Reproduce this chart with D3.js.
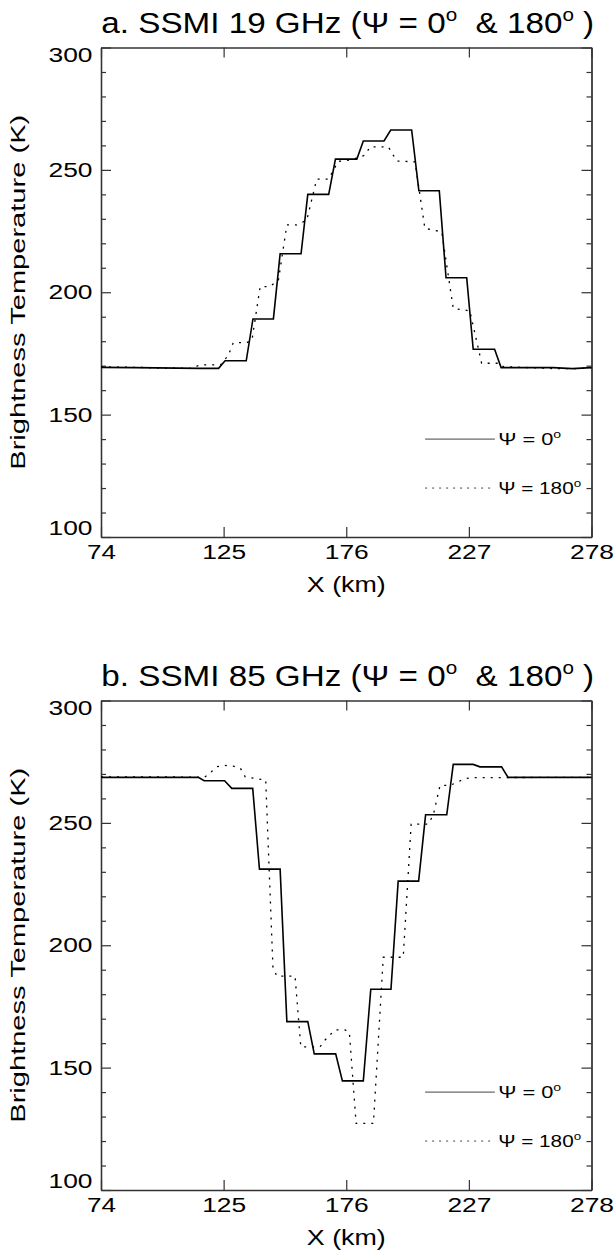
<!DOCTYPE html>
<html><head><meta charset="utf-8">
<script src="https://cdn.jsdelivr.net/npm/d3@7"></script>
<style>
body{margin:0;background:#fff;}
text{font-family:"Liberation Sans",Arial,Helvetica,sans-serif;fill:#000;}
</style></head>
<body>
<svg id="chart" width="614" height="1258"></svg>
<script>
// ---------- data ----------
const xTicks = [74, 125, 176, 227, 278];
const yTicks = [100, 150, 200, 250, 300];
const yMinor = [110,120,130,140,160,170,180,190,210,220,230,240,260,270,280,290];
const panelTitles = ["a. SSMI 19 GHz", "b. SSMI 85 GHz"];
const legendAngles = ["0", "180"];

// panel a, Psi = 0 (solid)
const a0_x = [74,88,115,122.9,125.6,134.4,137.2,145.7,148.5,157.2,160,168.7,171.5,180.4,183.1,191.7,194.5,203.2,206.2,214.7,217.5,226.1,228.8,237.7,240.4,262,270,278];
const a0_y = [169.3,169.2,168.9,168.9,172,172,189.1,189.1,215.7,215.7,240,240,254.4,254.4,261.8,261.8,266.3,266.3,241.5,241.5,205.9,205.9,176.7,176.7,169.2,169.2,168.8,169.2];
// panel a, Psi = 180 (dotted)
const a180_x = [74,90,100,112,115,123.7,127,129,134.6,136.8,140.2,144.3,147.8,151.3,155.4,159.6,163.7,168.6,172.7,177.6,183.8,185.9,193.5,197,204.6,208.7,215.7,220.5,227.4,232.3,240,241.3,262.7,273.2,278];
const a180_y = [169.5,169.3,169,168.9,170.3,170.3,174.3,179.4,179.4,180.5,202.3,202.3,205,227.5,227.5,229.5,246.2,246.2,253.5,254,256,259.4,259.4,253.6,253.3,226.1,224.7,193.4,192.4,171,171,169.6,168.8,168.8,169.2];
// panel b, Psi = 0 (solid)
const b0_x = [74,114.5,116.9,125.4,128.4,137.1,139.9,148.5,151.3,160,162.7,171.6,174.4,183.1,186.2,194.6,197.6,206.1,209,217.8,220.5,228.8,231.6,240.6,243.3,278];
const b0_y = [268.6,268.6,267.2,267.2,264.1,264.1,231.1,231.1,168.8,168.8,155.6,155.6,144.6,144.6,182,182,226.2,226.2,253.3,253.3,273.9,273.9,272.9,272.9,268.6,268.6];
// panel b, Psi = 180 (dotted)
const b180_x = [74,100,117,119.5,122,125,129,132,134,137.4,142.5,145.5,147.1,154.7,157.1,165.1,167.2,171.3,175.5,177.3,180.1,187.3,191.4,199.7,203,210.1,212.2,215,219.1,222,225,228.8,278];
const b180_y = [268.8,268.8,268.6,270.5,272.9,273.5,273.2,272.3,268.8,268.3,267.5,191.2,187.4,187.4,158.5,158.5,161.3,165.4,165.4,164.4,127.2,127.2,195.1,195.1,249.5,249.5,253.2,265.3,265.3,266.5,268,268.5,268.6];

const panels = [
  {title: panelTitles[0], s0x: a0_x, s0y: a0_y, s1x: a180_x, s1y: a180_y},
  {title: panelTitles[1], s0x: b0_x, s0y: b0_y, s1x: b180_x, s1y: b180_y}
];

// ---------- layout ----------
const L = 101, R = 591.5;
const tops = [47.5, 700.5], plotH = 489.5;
const svg = d3.select("#chart");
const axisColor = "#333";

function fitWidth(sel, target){
  sel.attr("textLength", target).attr("lengthAdjust","spacingAndGlyphs");
}
function stretchGroup(g, target){
  const bb = g.node().getBBox();
  const sx = target / bb.width;
  g.attr("transform", g.attr("data-tr") + " scale(" + sx + ",1)");
}

panels.forEach((p, i) => {
  const top = tops[i], bottom = top + plotH;
  const x = d3.scaleLinear().domain([74, 278]).range([L, R]);
  const y = d3.scaleLinear().domain([100, 300]).range([bottom, top]);
  const g = svg.append("g");

  // axes
  const bx = g.append("g").attr("transform", `translate(0,${bottom})`)
    .call(d3.axisBottom(x).tickValues(xTicks).tickSizeInner(-10).tickSizeOuter(0).tickPadding(7).tickFormat(d3.format("d")));
  const tx = g.append("g").attr("transform", `translate(0,${top})`)
    .call(d3.axisTop(x).tickValues(xTicks).tickSizeInner(-10).tickSizeOuter(0).tickFormat(""));
  const ly = g.append("g").attr("transform", `translate(${L},0)`)
    .call(d3.axisLeft(y).tickValues(yTicks).tickSizeInner(-10).tickSizeOuter(0).tickPadding(8.5).tickFormat(d3.format("d")));
  const lym = g.append("g").attr("transform", `translate(${L},0)`)
    .call(d3.axisLeft(y).tickValues(yMinor).tickSizeInner(-5).tickSizeOuter(0).tickFormat(""));
  const ry = g.append("g").attr("transform", `translate(${R},0)`)
    .call(d3.axisRight(y).tickValues(yTicks).tickSizeInner(-10).tickSizeOuter(0).tickFormat(""));
  const rym = g.append("g").attr("transform", `translate(${R},0)`)
    .call(d3.axisRight(y).tickValues(yMinor).tickSizeInner(-5).tickSizeOuter(0).tickFormat(""));
  [bx,tx,ly,lym,ry,rym].forEach(a => {
    a.selectAll("path").attr("stroke", axisColor).attr("stroke-width", 1.3);
    a.selectAll("line").attr("stroke", axisColor).attr("stroke-width", 1.2);
    a.selectAll("text").style("font-size","20.5px").style("font-family",'"Liberation Sans",Arial,sans-serif').attr("fill","#000");
  });
  ly.selectAll("text").each(function(){ fitWidth(d3.select(this), 44); });
  // end labels sit inside the axis span (top label hangs below, bottom label sits above)
  ly.selectAll("text").filter(d => d === 300).attr("dy", "0.66em");
  ly.selectAll("text").filter(d => d === 100).attr("dy", "-0.12em");
  bx.selectAll("text").each(function(d){ fitWidth(d3.select(this), String(d).length === 2 ? 29 : 44); });

  // curves
  const line = d3.line().x(d => x(d[0])).y(d => y(d[1]));
  const solid = p.s0x.map((v, k) => [v, p.s0y[k]]);
  const dotted = p.s1x.map((v, k) => [v, p.s1y[k]]);
  g.append("path").datum(dotted).attr("d", line).attr("fill","none")
    .attr("stroke","#000").attr("stroke-width",1.3).attr("stroke-dasharray","2,6");
  g.append("path").datum(solid).attr("d", line).attr("fill","none")
    .attr("stroke","#000").attr("stroke-width",1.6);

  // legend
  const legY = [140, 120];
  legendAngles.forEach((ang, k) => {
    const yy = y(legY[k]);
    g.append("line").attr("x1", x(208.8)).attr("x2", x(237.8)).attr("y1", yy).attr("y2", yy)
      .attr("stroke","#444").attr("stroke-width",1)
      .attr("stroke-dasharray", k === 1 ? "2,5" : null);
    const tg = g.append("g").attr("data-tr", `translate(${x(239.2)},${yy + 6})`);
    tg.attr("transform", tg.attr("data-tr"));
    const t = tg.append("text").attr("x",0).attr("y",0).style("font-size","17px");
    t.append("tspan").text("\u03A8 = " + ang);
    t.append("tspan").attr("dy",-7).style("font-size","11px").text("o");
    stretchGroup(tg, k === 0 ? 63 : 83);
  });

  // title
  const cx = (L + R) / 2;
  const ttg = svg.append("g").attr("data-tr", `translate(${cx + 1.5},${top - 15})`);
  ttg.attr("transform", ttg.attr("data-tr"));
  const tt = ttg.append("text").attr("x",0).attr("y",0).attr("text-anchor","middle")
    .style("font-size","29px").style("white-space","pre");
  tt.append("tspan").text(p.title + " (\u03A8 = 0");
  tt.append("tspan").attr("dy",-12).style("font-size","18px").text("o");
  tt.append("tspan").attr("dy",12).text("  & 180");
  tt.append("tspan").attr("dy",-12).style("font-size","18px").text("o");
  tt.append("tspan").attr("dy",12).text(" )");
  stretchGroup(ttg, 493);

  // x label
  const xg = svg.append("g").attr("data-tr", `translate(${cx},${bottom + 55})`);
  xg.attr("transform", xg.attr("data-tr"));
  xg.append("text").attr("text-anchor","middle").style("font-size","22px").text("X (km)");
  stretchGroup(xg, 79);

  // y label
  const yl = svg.append("text").attr("transform", `translate(25,${(top + bottom) / 2}) rotate(-90)`)
    .attr("text-anchor","middle").style("font-size","20.5px").text("Brightness Temperature (K)");
  fitWidth(yl, 355);
});
</script>
</body></html>
